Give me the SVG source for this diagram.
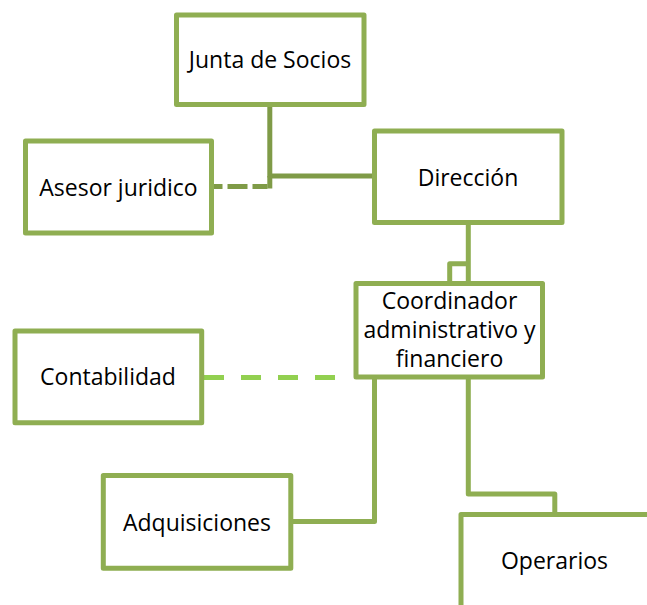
<svg xmlns="http://www.w3.org/2000/svg" width="647" height="605" viewBox="0 0 647 605">
<style>
.box{fill:#ffffff;stroke:#8FAE52;stroke-width:5;stroke-linejoin:round}
.lbl{font-family:"Open Sans","Liberation Sans",sans-serif;font-size:23px;fill:#000000;text-anchor:middle}
.conn{fill:none;stroke-width:5;stroke-linejoin:round}
.dark{stroke:#7F9B47}
.mid{stroke:#8FAE52}
</style>
<rect width="647" height="605" fill="#ffffff"/>
<g id="connectors">
<path class="conn dark" d="M269.8,106 V176 H372"/>
<path class="conn dark" d="M269.8,176 V188.5"/>
<path class="conn dark" d="M267.5,186.5 H214" stroke-dasharray="15 5 20 5"/>
<path class="conn mid" d="M468.3,225 V281"/>
<path class="conn mid" d="M468.3,263.8 H449.7 V281"/>
<path class="conn" stroke="#92D050" d="M204,377.5 H350" stroke-dasharray="20 17"/>
<path class="conn mid" d="M374.5,379 V521.5 H293"/>
<path class="conn mid" d="M468.3,379 V494 H554.8 V512"/>
</g>
<g id="junta">
<rect class="box" x="176.5" y="15" width="187.5" height="89.5"/>
<text class="lbl" x="270" y="67.5">Junta de Socios</text>
</g>
<g id="asesor">
<rect class="box" x="25.5" y="141" width="186" height="92"/>
<text class="lbl" x="118.5" y="195.5">Asesor juridico</text>
</g>
<g id="direccion">
<rect class="box" x="374.5" y="131" width="187.5" height="91.5"/>
<text class="lbl" x="468" y="185.5">Dirección</text>
</g>
<g id="coordinador">
<rect class="box" x="356" y="283.5" width="186.5" height="93.5"/>
<text class="lbl" x="449.5" y="308.5">Coordinador</text>
<text class="lbl" x="449.5" y="337.5">administrativo y</text>
<text class="lbl" x="449.5" y="366.5">financiero</text>
</g>
<g id="contabilidad">
<rect class="box" x="15" y="331" width="186.7" height="91.7"/>
<text class="lbl" x="108" y="385">Contabilidad</text>
</g>
<g id="adquisiciones">
<rect class="box" x="103.3" y="475.5" width="187.5" height="92.8"/>
<text class="lbl" x="197" y="530.5">Adquisiciones</text>
</g>
<g id="operarios">
<rect class="box" x="461" y="514.5" width="192" height="93"/>
<text class="lbl" x="554.5" y="569">Operarios</text>
</g>
</svg>
